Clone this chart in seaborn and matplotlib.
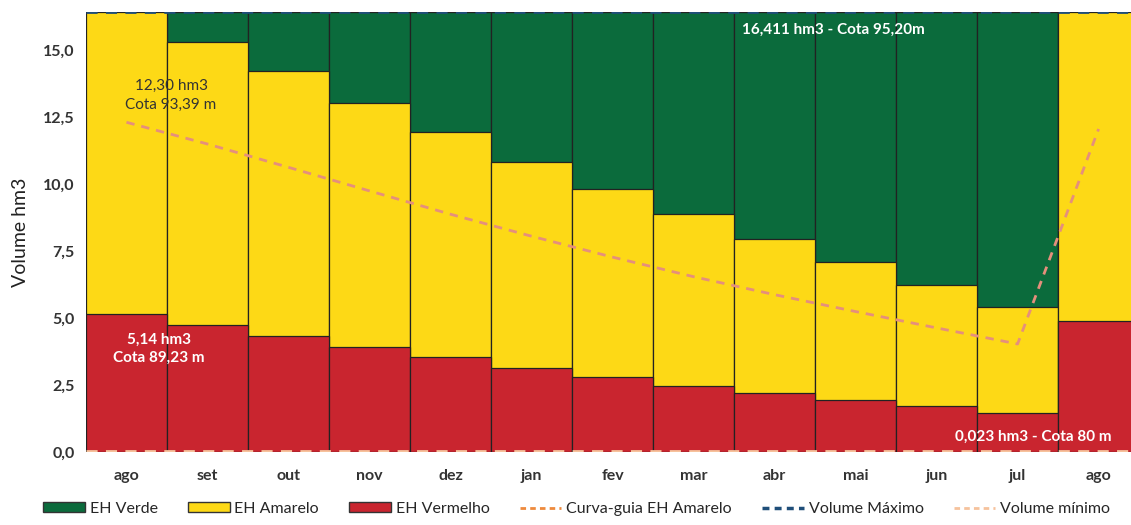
import numpy as np
import pandas as pd
import seaborn as sns
import matplotlib.pyplot as plt
from matplotlib.patches import Patch
from matplotlib.lines import Line2D

# meses (o ultimo "ago" e o do ano seguinte)
meses = ["ago", "set", "out", "nov", "dez", "jan", "fev", "mar", "abr", "mai", "jun", "jul", "ago"]

# limites das faixas (hm3)
vol_maximo = 16.411
vol_minimo = 0.023
topo_verde = [16.411] * 13
topo_amarelo = [16.41, 15.31, 14.23, 13.03, 11.93, 10.83, 9.81, 8.87, 7.94, 7.08, 6.24, 5.42, 16.41]
topo_vermelho = [5.14, 4.75, 4.33, 3.92, 3.54, 3.13, 2.80, 2.47, 2.21, 1.94, 1.72, 1.46, 4.90]
curva_guia = [12.30, 11.49, 10.62, 9.74, 8.87, 8.05, 7.27, 6.54, 5.87, 5.24, 4.63, 4.03, 12.05]

verde = "#0b6b3c"
amarelo = "#fdd916"
vermelho = "#c9252f"
cor_curva = "#e58f7c"
cor_max = "#1f4e79"
cor_min = "#f6c29c"

df = pd.DataFrame({
    "pos": range(len(meses)),
    "verde": topo_verde,
    "amarelo": topo_amarelo,
    "vermelho": topo_vermelho,
    "curva": curva_guia,
})

sns.set_style("white")
plt.rcParams["font.family"] = ["Lato", "DejaVu Sans"]

fig = plt.figure(figsize=(11.31, 5.25), dpi=100)
ax = fig.add_axes([0.076, 0.139, 0.924, 0.838])

for col, cor in [("verde", verde), ("amarelo", amarelo), ("vermelho", vermelho)]:
    sns.barplot(data=df, x="pos", y=col, color=cor, saturation=1, width=1.0,
                edgecolor="#222222", linewidth=0.9, ax=ax)

sns.lineplot(data=df, x="pos", y="curva", color=cor_curva, linestyle=(0, (3, 2.5)),
             linewidth=2, ax=ax)

ax.axhline(vol_maximo, color=cor_max, linestyle=(0, (4, 3)), linewidth=2)
ax.axhline(vol_minimo, color=cor_min, linestyle=(0, (4, 3)), linewidth=2)

ax.set_xlim(-0.5, 12.4)
ax.set_ylim(0, vol_maximo)
ax.set_yticks(np.arange(0, 15.1, 2.5))
ax.set_yticklabels([f"{v:.1f}".replace(".", ",") for v in np.arange(0, 15.1, 2.5)],
                   fontsize=11.5, fontweight="bold", color="#333333")
ax.set_xticks(range(len(meses)))
ax.set_xticklabels(meses, fontsize=11.5, fontweight="bold", color="#333333")
ax.tick_params(axis="x", pad=12, length=0)
ax.tick_params(axis="y", pad=8, length=0)
ax.set_xlabel("")
ax.set_ylabel("Volume hm3", fontsize=14, color="#222222", labelpad=10)
for s in ax.spines.values():
    s.set_visible(False)

# anotacoes
ax.text(0.55, 13.3, "12,30 hm3\nCota 93,39 m", ha="center", va="center",
        fontsize=11, color="#333333", linespacing=1.45)
ax.text(0.4, 3.85, "5,14 hm3\nCota 89,23 m", ha="center", va="center",
        fontsize=11, color="white", fontweight="bold", linespacing=1.45)
ax.text(8.73, 15.75, "16,411 hm3 - Cota 95,20m", ha="center", va="center",
        fontsize=11, color="white", fontweight="bold")
ax.text(11.19, 0.55, "0,023 hm3 - Cota 80 m", ha="center", va="center",
        fontsize=11, color="white", fontweight="bold")

handles = [
    Patch(facecolor=verde, edgecolor="#333333", label="EH Verde"),
    Patch(facecolor=amarelo, edgecolor="#333333", label="EH Amarelo"),
    Patch(facecolor=vermelho, edgecolor="#333333", label="EH Vermelho"),
    Line2D([], [], color="#ee8a3c", linestyle=(0, (2, 1.5)), linewidth=2, label="Curva-guia EH Amarelo"),
    Line2D([], [], color=cor_max, linestyle=(0, (2, 1.5)), linewidth=2.5, label="Volume Máximo"),
    Line2D([], [], color=cor_min, linestyle=(0, (2, 1.5)), linewidth=2, label="Volume mínimo"),
]
fig.legend(handles=handles, loc="lower center", bbox_to_anchor=(0.51, -0.01), ncol=6,
           frameon=False, fontsize=11.5, handlelength=2.6, handleheight=0.6,
           handletextpad=0.3, columnspacing=1.9)

fig.savefig("out.png", dpi=100)
